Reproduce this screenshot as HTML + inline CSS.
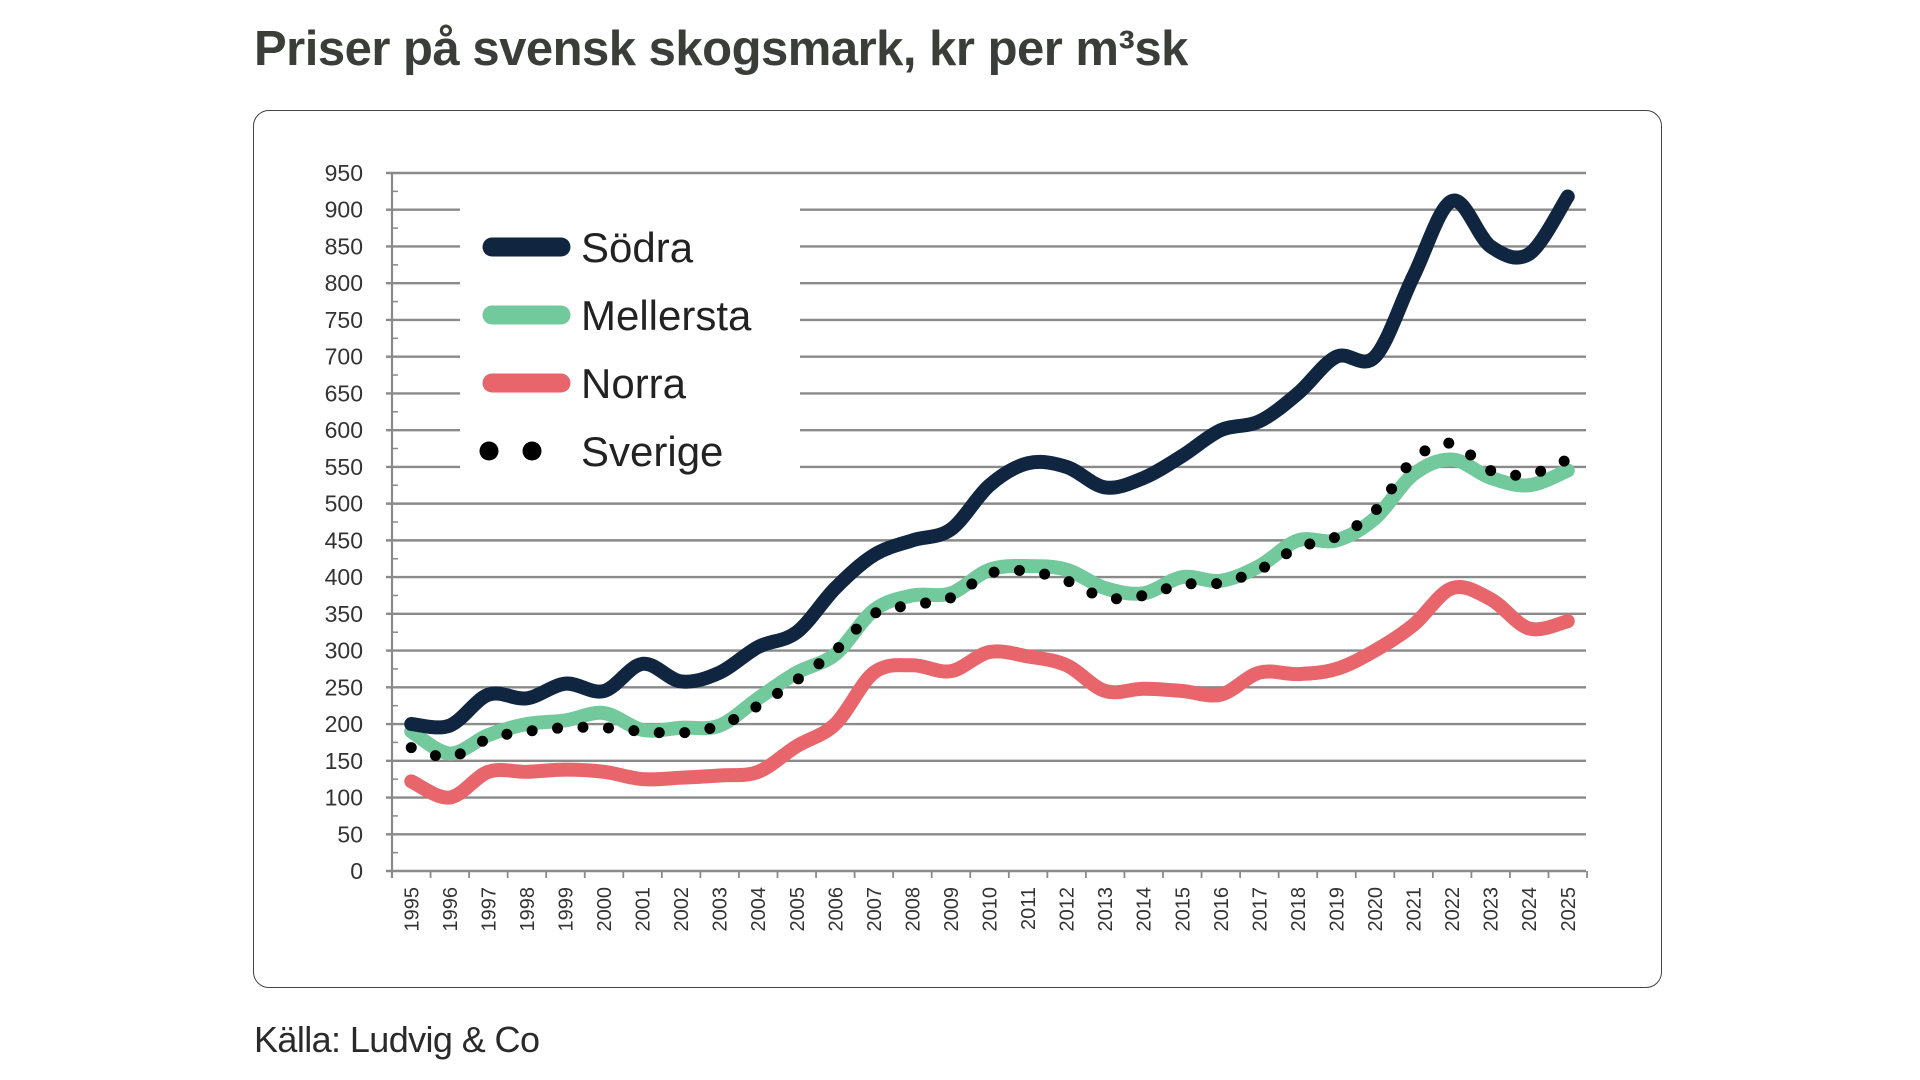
<!DOCTYPE html>
<html><head><meta charset="utf-8"><style>
html,body{margin:0;padding:0;background:#fff;}
body{width:1920px;height:1080px;position:relative;overflow:hidden;font-family:"Liberation Sans",sans-serif;}
.title{position:absolute;left:254px;top:25px;line-height:1;font-size:49px;font-weight:bold;color:#3b3e38;letter-spacing:-0.5px;white-space:nowrap;}
.box{position:absolute;left:253px;top:110px;width:1407px;height:876px;border:1.5px solid #444;border-radius:16px;}
.src{position:absolute;left:254px;top:1022px;line-height:1;font-size:36px;color:#2a2a2a;letter-spacing:-0.6px;white-space:nowrap;}
svg{position:absolute;left:0;top:0;}
</style></head><body>
<div class="title">Priser på svensk skogsmark, kr per m³sk</div>
<div class="box"></div>
<div class="src">Källa: Ludvig &amp; Co</div>
<svg id="c" width="1920" height="1080" xmlns="http://www.w3.org/2000/svg"></svg>
<script>
const s=document.getElementById('c');
const AX=392,DX=38.55,X0=AX+DX/2,Y0=871,PY=(871-173)/950;
const y=v=>Y0-v*PY, x=i=>X0+i*DX;
let h='';
for(let v=0;v<=950;v+=50){
  const yy=y(v);
  if(v>=550&&v<=900){
    h+=`<line x1="386" x2="460" y1="${yy}" y2="${yy}" stroke="#8a8a8a" stroke-width="2.4"/>`;
    h+=`<line x1="800" x2="1586" y1="${yy}" y2="${yy}" stroke="#8a8a8a" stroke-width="2.4"/>`;
  } else h+=`<line x1="386" x2="1586" y1="${yy}" y2="${yy}" stroke="#8a8a8a" stroke-width="2.4"/>`;
  h+=`<text x="363" y="${yy+8}" font-size="23" text-anchor="end" fill="#333" font-family="Liberation Sans">${v}</text>`;
}
for(let v=25;v<950;v+=50){h+=`<line x1="392" x2="398" y1="${y(v)}" y2="${y(v)}" stroke="#8a8a8a" stroke-width="1.5"/>`;}
h+=`<line x1="392" x2="392" y1="173" y2="878" stroke="#8a8a8a" stroke-width="2.2"/>`;
for(let i=0;i<=31;i++){const xx=AX+i*DX;h+=`<line x1="${xx}" x2="${xx}" y1="871" y2="878" stroke="#8a8a8a" stroke-width="1.8"/>`;}
for(let i=0;i<=30;i++){h+=`<text transform="translate(${x(i)+7},887) rotate(-90)" font-size="20" text-anchor="end" fill="#333" font-family="Liberation Sans">${1995+i}</text>`;}
function path(d){
  const p=d.map((v,i)=>[x(i),y(v)]);
  let str=`M${p[0][0]},${p[0][1]}`;
  for(let i=0;i<p.length-1;i++){
    const p0=p[Math.max(i-1,0)],p1=p[i],p2=p[i+1],p3=p[Math.min(i+2,p.length-1)];
    const c1=[p1[0]+(p2[0]-p0[0])/6,p1[1]+(p2[1]-p0[1])/6];
    const c2=[p2[0]-(p3[0]-p1[0])/6,p2[1]-(p3[1]-p1[1])/6];
    str+=` C${c1[0]},${c1[1]} ${c2[0]},${c2[1]} ${p2[0]},${p2[1]}`;
  }
  return str;
}
const sodra=[200,198,240,235,255,245,282,258,270,305,325,385,430,450,465,525,555,550,522,535,565,600,612,650,700,700,810,912,850,840,918];
const mell=[190,160,185,200,205,215,192,195,198,235,270,295,355,375,378,410,415,410,385,378,400,395,415,450,450,480,540,560,535,525,545];
const norra=[122,100,135,135,138,135,125,127,130,135,170,200,270,280,272,298,292,280,245,248,245,240,270,268,275,300,335,385,370,330,340];
const sv=[168,155,180,190,195,195,190,188,198,225,260,300,350,362,372,405,408,395,372,375,390,392,410,440,455,490,560,582,545,540,560];
h+=`<path d="${path(norra)}" fill="none" stroke="#e8666b" stroke-width="14" stroke-linecap="round" stroke-linejoin="round"/>`;
h+=`<path d="${path(mell)}" fill="none" stroke="#72c99c" stroke-width="14" stroke-linecap="round" stroke-linejoin="round"/>`;
h+=`<path d="${path(sodra)}" fill="none" stroke="#0f2540" stroke-width="14" stroke-linecap="round" stroke-linejoin="round"/>`;
h+=`<path d="${path(sv)}" fill="none" stroke="#000" stroke-width="11" stroke-linecap="round" stroke-dasharray="0 25.5"/>`;
const L=[["Södra","#0f2540",247],["Mellersta","#72c99c",315],["Norra","#e8666b",383]];
for(const [t,c,yy] of L){
  h+=`<line x1="492" x2="561" y1="${yy}" y2="${yy}" stroke="${c}" stroke-width="19" stroke-linecap="round"/>`;
  h+=`<text x="581" y="${yy+15}" font-size="42" fill="#222" font-family="Liberation Sans">${t}</text>`;
}
h+=`<circle cx="489" cy="451" r="9.5" fill="#000"/><circle cx="532" cy="451" r="9.5" fill="#000"/>`;
h+=`<text x="581" y="466" font-size="42" fill="#222" font-family="Liberation Sans">Sverige</text>`;
s.innerHTML=h;
</script>
</body></html>
